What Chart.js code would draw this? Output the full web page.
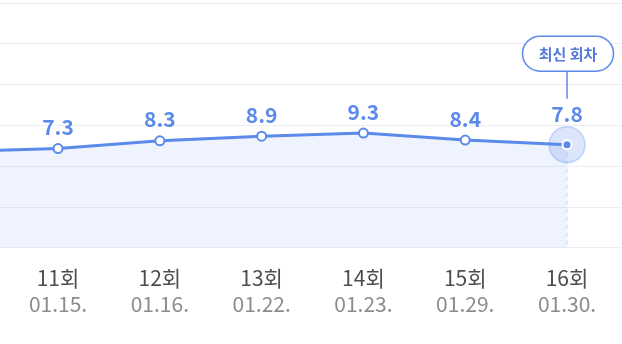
<!DOCTYPE html>
<html>
<head>
<meta charset="utf-8">
<script src="https://cdn.jsdelivr.net/npm/chart.js@4"></script>
<style>
  html, body { margin: 0; padding: 0; background: #fff; }
  #wrap { position: relative; width: 622px; height: 344px; }
</style>
</head>
<body>
<div id="wrap"><canvas id="score-chart"></canvas></div>
<script>
// rounds, dates and scores (10회 is only partly visible on the left)
const rounds = ['10회', '11회', '12회', '13회', '14회', '15회', '16회'];
const dates = ['01.09.', '01.15.', '01.16.', '01.22.', '01.23.', '01.29.', '01.30.'];
const scores = [6.9, 7.3, 8.3, 8.9, 9.3, 8.4, 7.8];
const firstRound = 10;
const latestLabel = '최신 회차';

const BLUE = 'rgb(91, 138, 235)';
const FONT = "'Noto Sans CJK KR', 'Noto Sans', sans-serif";

const X_MIN = 10.43;
const X_MAX = 16.54;
const Y_MIN = -5.6;
const Y_MAX = 26.2;
const GRID_LINES = 7;
const lastIdx = scores.length - 1;

const pointsPlugin = {
  id: 'pointsPlugin',
  beforeDatasetsDraw(chart) {
    const ctx = chart.ctx;
    const pt = chart.getDatasetMeta(0).data[lastIdx];
    const bottom = chart.chartArea.bottom;
    ctx.save();
    // dashed guide from the latest point down
    ctx.strokeStyle = 'rgba(91, 138, 235, 0.3)';
    ctx.lineWidth = 1;
    ctx.setLineDash([4, 4]);
    ctx.beginPath();
    ctx.moveTo(pt.x, pt.y);
    ctx.lineTo(pt.x, bottom);
    ctx.stroke();
    ctx.setLineDash([]);
    // halo
    ctx.beginPath();
    ctx.arc(pt.x, pt.y, 18, 0, Math.PI * 2);
    ctx.fillStyle = 'rgba(91, 138, 235, 0.22)';
    ctx.fill();
    ctx.strokeStyle = 'rgba(91, 138, 235, 0.3)';
    ctx.lineWidth = 1.5;
    ctx.stroke();
    ctx.restore();
  },
  afterDatasetsDraw(chart) {
    const ctx = chart.ctx;
    const meta = chart.getDatasetMeta(0);
    ctx.save();
    ctx.font = 'bold 21px ' + FONT;
    ctx.fillStyle = BLUE;
    ctx.textAlign = 'center';
    ctx.textBaseline = 'middle';
    meta.data.forEach((pt, i) => {
      const lift = i === lastIdx ? 31 : 21.5;
      ctx.fillText(scores[i].toFixed(1), pt.x, pt.y - lift);
    });

    // latest round badge
    const pt = meta.data[lastIdx];
    const w = 91, h = 35;
    const cy = pt.y - 91;
    ctx.strokeStyle = BLUE;
    ctx.lineWidth = 1.5;
    ctx.beginPath();
    ctx.moveTo(pt.x, cy + h / 2);
    ctx.lineTo(pt.x, pt.y - 46);
    ctx.stroke();
    ctx.beginPath();
    ctx.roundRect(pt.x - w / 2 + 1, cy - h / 2, w, h, h / 2);
    ctx.fillStyle = '#fff';
    ctx.fill();
    ctx.stroke();
    ctx.font = 'bold 15px ' + FONT;
    ctx.fillStyle = 'rgb(84, 122, 214)';
    ctx.fillText(latestLabel, pt.x + 1, cy + 1);
    ctx.restore();
  },
};

// one tick per visible round
function roundTicks(scale) {
  scale.ticks = rounds
    .map((r, i) => ({ value: firstRound + i }))
    .filter((t) => t.value >= X_MIN && t.value <= X_MAX);
}

// evenly spaced background grid lines
function gridTicks(scale) {
  const step = (Y_MAX - Y_MIN) / (GRID_LINES - 1);
  scale.ticks = [];
  for (let i = 0; i < GRID_LINES; i++) {
    scale.ticks.push({ value: Y_MIN + i * step });
  }
}

function xAxis(labels, color, weight, padding) {
  return {
    type: 'linear',
    position: 'bottom',
    weight: weight,
    min: X_MIN,
    max: X_MAX,
    bounds: 'data',
    grid: { display: false, drawTicks: false },
    border: { display: false },
    afterBuildTicks: roundTicks,
    ticks: {
      autoSkip: false,
      maxRotation: 0,
      padding: padding,
      color: color,
      font: { family: FONT, size: 21, lineHeight: 1.15 },
      callback: (v) => labels[Math.round(v) - firstRound],
    },
  };
}

function createChart() {
  const ctx = document.getElementById('score-chart').getContext('2d');
  const x = xAxis(rounds, '#4d4d4d', 0, 18);
  x.afterFit = (scale) => {
    scale.height = 43;
  };
  const x2 = xAxis(dates, '#8c8c8c', 1, 1);

  new Chart(ctx, {
    type: 'line',
    data: {
      datasets: [
        {
          data: scores.map((v, i) => ({ x: firstRound + i, y: v })),
          borderColor: BLUE,
          borderWidth: 3,
          backgroundColor: 'rgba(91, 138, 235, 0.1)',
          fill: 'start',
          tension: 0,
          pointRadius: 4.5,
          pointBorderWidth: 2,
          pointBorderColor: (c) => (c.dataIndex === lastIdx ? '#fff' : BLUE),
          pointBackgroundColor: (c) => (c.dataIndex === lastIdx ? BLUE : '#fff'),
        },
      ],
    },
    options: {
      responsive: true,
      maintainAspectRatio: false,
      animation: false,
      layout: { autoPadding: false, padding: { top: 3, bottom: 27, left: 0, right: 0 } },
      plugins: { legend: { display: false }, tooltip: { enabled: false } },
      scales: {
        x: x,
        x2: x2,
        y: {
          min: Y_MIN,
          max: Y_MAX,
          bounds: 'data',
          afterBuildTicks: gridTicks,
          ticks: { display: false },
          grid: { color: '#eceef1', lineWidth: 1, drawTicks: false },
          border: { display: false },
        },
      },
    },
    plugins: [pointsPlugin],
  });
}

createChart();
</script>
</body>
</html>
